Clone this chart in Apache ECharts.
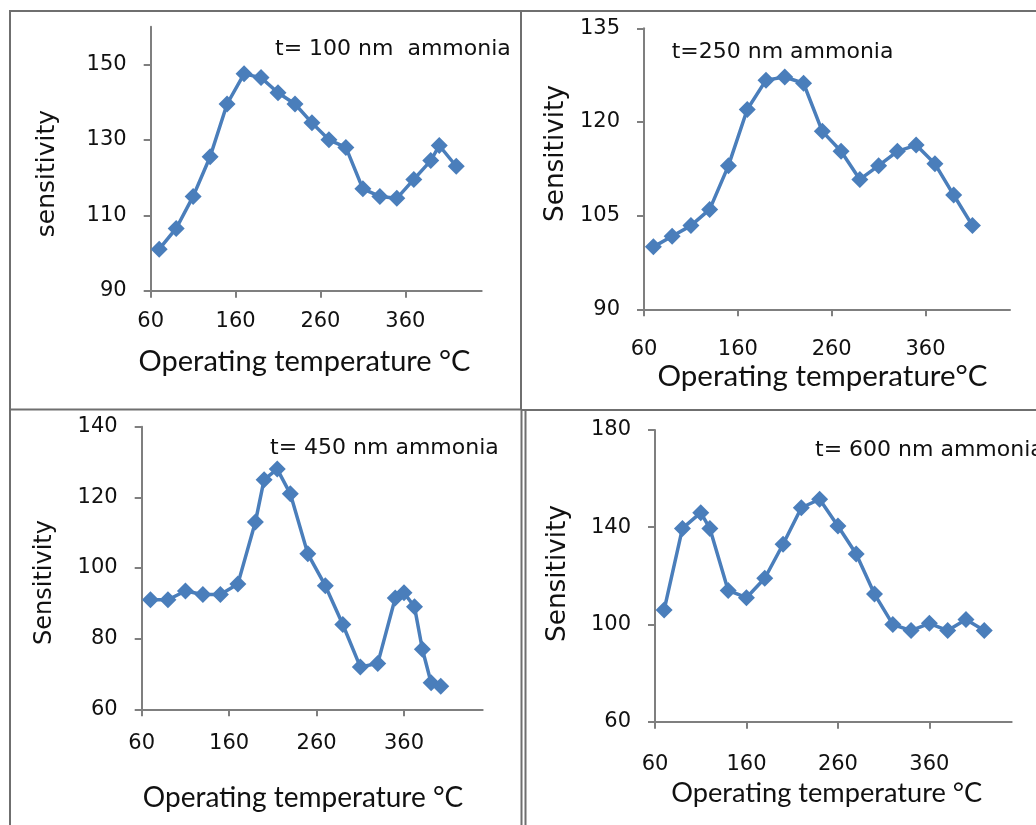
<!DOCTYPE html>
<html>
<head>
<meta charset="utf-8">
<script src="https://cdn.jsdelivr.net/npm/echarts@6/dist/echarts.min.js"></script>
<style>
html,body{margin:0;padding:0;background:#fff;}
#chart{width:1036px;height:825px;}
</style>
</head>
<body>
<div id="chart"></div>
<script>
// ---- data ----
const temp100 = [70, 90, 110, 130, 150, 170, 190, 210, 230, 250, 270, 290, 310, 330, 350, 370, 390, 400, 420];
const sens100 = [101, 106.5, 115, 125.5, 139.5, 147.5, 146.5, 142.5, 139.5, 134.5, 130, 128, 117, 115, 114.5, 119.5, 124.5, 128.5, 123];

const temp250 = [70, 90, 110, 130, 150, 170, 190, 210, 230, 250, 270, 290, 310, 330, 350, 370, 390, 410];
const sens250 = [100, 101.7, 103.4, 106, 113, 122, 126.7, 127.2, 126.2, 118.5, 115.3, 110.8, 113, 115.3, 116.3, 113.3, 108.3, 103.4];

const temp450 = [70, 90, 110, 130, 150, 170, 190, 200, 215, 230, 250, 270, 290, 310, 330, 350, 360, 372, 381, 391, 402];
const sens450 = [91, 91, 93.5, 92.5, 92.5, 95.5, 113, 125, 128, 121, 104, 95, 84, 72, 73, 91.5, 93, 89, 77, 67.5, 66.5];

const temp600 = [70, 90, 110, 120, 140, 160, 180, 200, 220, 240, 260, 280, 300, 320, 340, 360, 380, 400, 420];
const sens600 = [106, 139.5, 146, 139.5, 114, 111, 119, 133, 148, 151.5, 140.5, 129, 112.5, 100, 97.5, 100.5, 97.5, 102, 97.5];

const xTicks = [60, 160, 260, 360];
const yTicks100 = [90, 110, 130, 150];
const yTicks250 = [90, 105, 120, 135];
const yTicks450 = [60, 80, 100, 120, 140];
const yTicks600 = [60, 100, 140, 180];

const labels = ['t= 100 nm  ammonia', 't=250 nm ammonia', 't= 450 nm ammonia', 't= 600 nm ammonia'];
const yTitles = ['sensitivity', 'Sensitivity', 'Sensitivity', 'Sensitivity'];
const xTitles = ['Operating temperature \u00B0C', 'Operating temperature\u00B0C', 'Operating temperature \u00B0C', 'Operating temperature \u00B0C'];

// ---- layout ----
const panels = [
  {grid: {left: 150.7, top: 26.7, width: 331, height: 264}, ymin: 90, ymax: 160, yint: 20, yticks: yTicks100, temps: temp100, sens: sens100,
   xm: 20, ann: [275, 49, 22], ytitle: [47.5, 173.5, 25], xtitle: [304.5, 362, 29]},
  {grid: {left: 644, top: 28.3, width: 366, height: 281}, ymin: 90, ymax: 135, yint: 15, yticks: yTicks250, temps: temp250, sens: sens250,
   xm: 30, ann: [671.7, 52.3, 22], ytitle: [555.7, 153.5, 26.3], xtitle: [822.5, 376.7, 29.5]},
  {grid: {left: 141.7, top: 426.7, width: 341, height: 282.6}, ymin: 60, ymax: 140, yint: 20, yticks: yTicks450, temps: temp450, sens: sens450,
   xm: 24, ann: [270, 448.3, 22], ytitle: [45, 582.5, 24], xtitle: [303, 798.3, 28]},
  {grid: {left: 655, top: 430, width: 356.7, height: 291.7}, ymin: 60, ymax: 180, yint: 40, yticks: yTicks600, temps: temp600, sens: sens600,
   xm: 32, ann: [815, 450, 22], ytitle: [558.3, 573.5, 26.3], xtitle: [826.7, 793.3, 27.2]}
];

const axisColor = '#7f7f7f';
const textColor = '#111111';
const lineColor = '#4A7EBB';

const grids = [], xAxes = [], yAxes = [], series = [], graphics = [];
panels.forEach((p, i) => {
  grids.push(p.grid);
  xAxes.push({
    type: 'value', gridIndex: i, min: 60, max: 450, interval: 100,
    axisLine: {show: true, onZero: false, lineStyle: {color: axisColor, width: 2}},
    axisTick: {show: true, length: 7, customValues: xTicks, lineStyle: {color: axisColor, width: 2}},
    axisLabel: {customValues: xTicks, margin: p.xm, color: textColor, fontFamily: 'DejaVu Sans', fontSize: 21},
    splitLine: {show: false}
  });
  yAxes.push({
    type: 'value', gridIndex: i, min: p.ymin, max: p.ymax, interval: p.yint,
    axisLine: {show: true, onZero: false, lineStyle: {color: axisColor, width: 2}},
    axisTick: {show: true, length: 7, customValues: p.yticks, lineStyle: {color: axisColor, width: 2}},
    axisLabel: {customValues: p.yticks, margin: 24, color: textColor, fontFamily: 'DejaVu Sans', fontSize: 21},
    splitLine: {show: false}
  });
  series.push({
    type: 'line', xAxisIndex: i, yAxisIndex: i,
    data: p.temps.map((t, k) => [t, p.sens[k]]),
    symbol: 'diamond', symbolSize: 17, showSymbol: true,
    lineStyle: {color: lineColor, width: 3.5},
    itemStyle: {color: lineColor},
    emphasis: {disabled: true},
    animation: false
  });
  graphics.push({type: 'text', x: p.ann[0], y: p.ann[1],
    style: {text: labels[i], fill: textColor, font: p.ann[2] + 'px "DejaVu Sans"', verticalAlign: 'middle', align: 'left'}});
  graphics.push({type: 'text', x: p.ytitle[0], y: p.ytitle[1], rotation: Math.PI / 2,
    style: {text: yTitles[i], fill: textColor, font: p.ytitle[2] + 'px "DejaVu Sans"', verticalAlign: 'middle', align: 'center'}});
  graphics.push({type: 'text', x: p.xtitle[0], y: p.xtitle[1],
    style: {text: xTitles[i], fill: textColor, font: p.xtitle[2] + 'px Lato', verticalAlign: 'middle', align: 'center'}});
});

// panel frame lines
const frame = [
  [9, 11, 1036, 11], [10, 10, 10, 825], [521, 10, 521, 409],
  [9, 409.5, 521, 409.5], [521, 410, 1036, 410],
  [521.5, 410, 521.5, 825], [525.5, 410, 525.5, 825]
];
frame.forEach(f => graphics.push({type: 'line', shape: {x1: f[0], y1: f[1], x2: f[2], y2: f[3]},
  style: {stroke: '#6f6f6f', lineWidth: 2}, silent: true}));

const chart = echarts.init(document.getElementById('chart'), null, {renderer: 'canvas'});
chart.setOption({
  animation: false,
  backgroundColor: '#ffffff',
  grid: grids, xAxis: xAxes, yAxis: yAxes, series: series,
  graphic: graphics
});
</script>
</body>
</html>
